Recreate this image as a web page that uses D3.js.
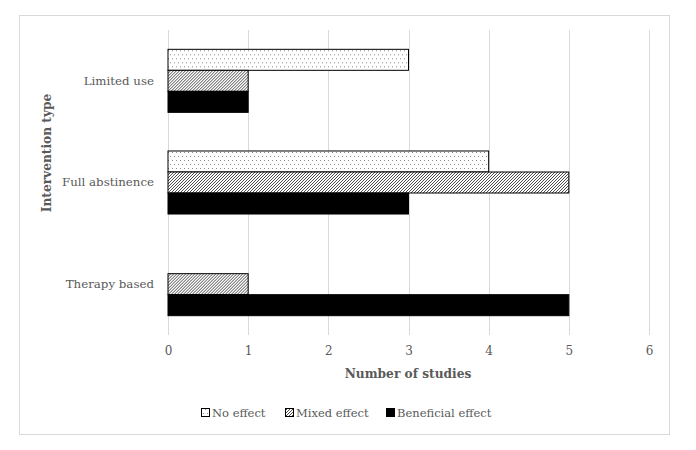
<!DOCTYPE html>
<html><head><meta charset="utf-8">
<script src="https://cdn.jsdelivr.net/npm/d3@7"></script>
<style>
html,body{margin:0;padding:0;background:#fff;}
svg{display:block;}
text{font-family:"DejaVu Serif",serif;fill:#595959;}
</style></head>
<body>
<svg id="chart" width="696" height="450"></svg>
<script>
const categories = ["Limited use", "Full abstinence", "Therapy based"];
const seriesNames = ["No effect", "Mixed effect", "Beneficial effect"];
const noEffect = [3, 4, 0];
const mixedEffect = [1, 5, 1];
const beneficialEffect = [1, 3, 5];
const xTicks = [0, 1, 2, 3, 4, 5, 6];
const xTitle = "Number of studies";
const yTitle = "Intervention type";

const seriesValues = [noEffect, mixedEffect, beneficialEffect];
const fills = ["url(#dots)", "url(#hatch)", "#000"];
const FONT = '"DejaVu Serif",serif';

const svg = d3.select("#chart");
const defs = svg.append("defs");

// dotted pattern
const pd = defs.append("pattern").attr("id","dots").attr("patternUnits","userSpaceOnUse")
  .attr("width",4).attr("height",8);
pd.append("rect").attr("width",4).attr("height",8).attr("fill","#fff");
pd.append("rect").attr("x",0).attr("y",1).attr("width",1).attr("height",1).attr("fill","#8a8a8a");
pd.append("rect").attr("x",2).attr("y",5).attr("width",1).attr("height",1).attr("fill","#8a8a8a");

// hatch pattern (upward diagonal)
const ph = defs.append("pattern").attr("id","hatch").attr("patternUnits","userSpaceOnUse")
  .attr("width",3).attr("height",3);
ph.append("rect").attr("width",3).attr("height",3).attr("fill","#fff");
[[0,2],[1,1],[2,0]].forEach(p=>ph.append("rect").attr("x",p[0]).attr("y",p[1]).attr("width",1).attr("height",1).attr("fill","#4a4a4a"));

// outer border
svg.append("rect").attr("x",19.5).attr("y",15.5).attr("width",650).attr("height",419)
  .attr("fill","#fff").attr("stroke","#d9d9d9").attr("stroke-width",1);

const x = d3.scaleLinear().domain([0,6]).range([168,649]);
const y = d3.scaleBand().domain(categories).range([30,335]).paddingInner(0.38).paddingOuter(0.19);
const ys = d3.scaleBand().domain(seriesNames).range([0,y.bandwidth()]);

// gridlines
svg.append("g").selectAll("line").data(xTicks).join("line")
  .attr("x1",d=>Math.round(x(d))+0.5).attr("x2",d=>Math.round(x(d))+0.5)
  .attr("y1",30).attr("y2",335).attr("stroke","#d9d9d9").attr("stroke-width",1);

// bars
const groups = svg.append("g").selectAll("g").data(categories).join("g")
  .attr("transform",d=>`translate(0,${y(d)})`);
groups.selectAll("rect").data((c,i)=>seriesNames.map((s,j)=>({s, j, v: seriesValues[j][i]})))
  .join("rect")
  .filter(d=>d.v>0)
  .attr("x",x(0))
  .attr("y",d=>ys(d.s))
  .attr("width",d=>x(d.v)-x(0))
  .attr("height",ys.bandwidth())
  .attr("fill",d=>fills[d.j])
  .attr("stroke","#000").attr("stroke-width",1);

// x axis labels
const xAxis = d3.axisBottom(x).tickValues(xTicks).tickFormat(d3.format("d")).tickSize(0).tickPadding(0);
const gx = svg.append("g").attr("transform","translate(0,346)").call(xAxis);
gx.select(".domain").remove();
gx.selectAll("text").attr("font-size","12px").attr("fill","#595959").attr("font-family",FONT);

// y axis labels
const yAxis = d3.axisLeft(y).tickSize(0).tickPadding(14);
const gy = svg.append("g").attr("transform",`translate(${x(0)},0)`).call(yAxis);
gy.select(".domain").remove();
gy.selectAll("text").attr("font-size","11.8px").attr("fill","#595959").attr("font-family",FONT);

// titles
svg.append("text").attr("x",408).attr("y",378).attr("text-anchor","middle")
  .attr("font-size","12.2px").attr("font-weight","bold").text(xTitle);
svg.append("text").attr("transform","translate(51,153) rotate(-90)").attr("text-anchor","middle")
  .attr("font-size","12.2px").attr("font-weight","bold").text(yTitle);

// legend
const legX = [201, 285, 386];
const leg = svg.append("g").selectAll("g").data(seriesNames).join("g")
  .attr("transform",(d,i)=>`translate(${legX[i]},408)`);
leg.append("rect").attr("x",0.5).attr("y",0.5).attr("width",8).attr("height",8)
  .attr("fill",(d,i)=>fills[i]).attr("stroke","#000").attr("stroke-width",1);
leg.append("text").attr("x",11).attr("y",9).attr("font-size","11.5px").text(d=>d);
</script>
</body></html>
